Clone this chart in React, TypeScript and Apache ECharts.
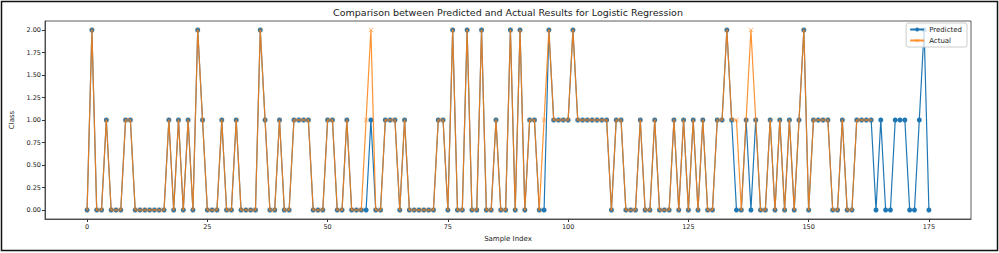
import React, { useEffect, useRef } from "react";
import * as echarts from "echarts";

const TITLE = "Comparison between Predicted and Actual Results for Logistic Regression";
const X_TICKS = [0, 25, 50, 75, 100, 125, 150, 175];
const Y_TICKS = [0, 0.25, 0.5, 0.75, 1, 1.25, 1.5, 1.75, 2];

const predicted = [
  0, 2, 0, 0, 1, 0, 0, 0, 1, 1, 0, 0, 0, 0, 0, 0, 0, 1, 0, 1,
  0, 1, 0, 2, 1, 0, 0, 0, 1, 0, 0, 1, 0, 0, 0, 0, 2, 1, 0, 0,
  1, 0, 0, 1, 1, 1, 1, 0, 0, 0, 1, 1, 0, 0, 1, 0, 0, 0, 0, 1,
  0, 0, 1, 1, 1, 0, 1, 0, 0, 0, 0, 0, 0, 1, 1, 0, 2, 0, 0, 2,
  0, 0, 2, 0, 0, 1, 0, 0, 2, 0, 2, 0, 1, 1, 0, 0, 2, 1, 1, 1,
  1, 2, 1, 1, 1, 1, 1, 1, 1, 0, 1, 1, 0, 0, 0, 1, 0, 0, 1, 0,
  0, 0, 1, 0, 1, 0, 1, 0, 1, 0, 0, 1, 1, 2, 1, 0, 0, 1, 0, 1,
  0, 0, 1, 0, 1, 0, 1, 0, 1, 2, 0, 1, 1, 1, 1, 0, 0, 1, 0, 0,
  1, 1, 1, 1, 0, 1, 0, 0, 1, 1, 1, 0, 0, 1, 2, 0,
];

const actual = [
  0, 2, 0, 0, 1, 0, 0, 0, 1, 1, 0, 0, 0, 0, 0, 0, 0, 1, 0, 1,
  0, 1, 0, 2, 1, 0, 0, 0, 1, 0, 0, 1, 0, 0, 0, 0, 2, 1, 0, 0,
  1, 0, 0, 1, 1, 1, 1, 0, 0, 0, 1, 1, 0, 0, 1, 0, 0, 0, 1, 2,
  0, 0, 1, 1, 1, 0, 1, 0, 0, 0, 0, 0, 0, 1, 1, 0, 2, 0, 0, 2,
  0, 0, 2, 0, 0, 1, 0, 0, 2, 0, 2, 0, 1, 1, 0, 1, 2, 1, 1, 1,
  1, 2, 1, 1, 1, 1, 1, 1, 1, 0, 1, 1, 0, 0, 0, 1, 0, 0, 1, 0,
  0, 0, 1, 0, 1, 0, 1, 0, 1, 0, 0, 1, 1, 2, 1, 1, 0, 1, 2, 1,
  0, 0, 1, 0, 1, 0, 1, 0, 1, 2, 0, 1, 1, 1, 1, 0, 0, 1, 0, 0,
  1, 1, 1, 1,
];

const X_SYMBOL = "path://M1,0L5,4L9,0L10,1L6,5L10,9L9,10L5,6L1,10L0,9L4,5L0,1Z";
const FONT = "DejaVu Sans";

export default function App() {
  const ref = useRef<HTMLDivElement>(null);
  useEffect(() => {
    document.body.style.margin = "0";
    const chart = echarts.init(ref.current!, null, { renderer: "svg" });
    const txt = { fontFamily: FONT, color: "#222" };
    chart.setOption({
      animation: false,
      backgroundColor: "#fff",
      grid: {
        left: 45, right: 28, top: 21, bottom: 34,
        show: true, borderColor: "#333", borderWidth: 0.8,
      },
      graphic: [
        {
          type: "rect",
          shape: { x: 1.5, y: 1.5, width: 996, height: 249 },
          style: { fill: "none", stroke: "#111", lineWidth: 1.5 },
          silent: true,
        },
        {
          type: "text",
          x: 508, y: 12,
          style: {
            text: TITLE, fontFamily: FONT, fontSize: 9.5, fill: "#222",
            textAlign: "center", textVerticalAlign: "middle",
          },
        },
      ],
      legend: {
        orient: "vertical",
        right: 32, top: 23,
        backgroundColor: "rgba(255,255,255,0.8)",
        borderColor: "#ccc", borderWidth: 1, borderRadius: 2,
        padding: [3, 5, 3, 3],
        itemWidth: 14, itemHeight: 5, itemGap: 4,
        textStyle: { ...txt, fontSize: 7 },
        data: ["Predicted", "Actual"],
      },
      xAxis: {
        type: "value",
        min: -8.75, max: 183.75,
        name: "Sample Index",
        nameLocation: "middle",
        nameGap: 16,
        nameTextStyle: { ...txt, fontSize: 7 },
        axisLine: { onZero: false, lineStyle: { color: "#333", width: 0.8 } },
        axisTick: { customValues: X_TICKS, length: 3, lineStyle: { color: "#333" } },
        axisLabel: { customValues: X_TICKS, ...txt, fontSize: 6.5, margin: 4 },
        splitLine: { show: false },
      },
      yAxis: {
        type: "value",
        min: -0.1, max: 2.1,
        name: "Class",
        nameLocation: "middle",
        nameGap: 23,
        nameRotate: 90,
        nameTextStyle: { ...txt, fontSize: 7 },
        axisLine: { show: true, onZero: false, lineStyle: { color: "#333", width: 0.8 } },
        axisTick: { show: true, customValues: Y_TICKS, length: 3, lineStyle: { color: "#333" } },
        axisLabel: {
          customValues: Y_TICKS, ...txt, fontSize: 6.5, margin: 4,
          formatter: (v: number) => v.toFixed(2),
        },
        splitLine: { show: false },
      },
      series: [
        {
          name: "Predicted",
          type: "line",
          data: predicted.map((v, i) => [i, v]),
          symbol: "circle",
          symbolSize: 5,
          showAllSymbol: true,
          lineStyle: { color: "#1f77b4", width: 1.2 },
          itemStyle: { color: "#1f77b4" },
          z: 2,
        },
        {
          name: "Actual",
          type: "line",
          data: actual.map((v, i) => [i, v]),
          symbol: X_SYMBOL,
          symbolSize: 5,
          showAllSymbol: true,
          lineStyle: { color: "#ff7f0e", width: 1.2, opacity: 0.85 },
          itemStyle: { color: "#ff7f0e", opacity: 0.6 },
          z: 3,
        },
      ],
    });
    return () => chart.dispose();
  }, []);
  return <div ref={ref} style={{ position: "absolute", left: 0, top: 0, width: 999, height: 253 }} />;
}
